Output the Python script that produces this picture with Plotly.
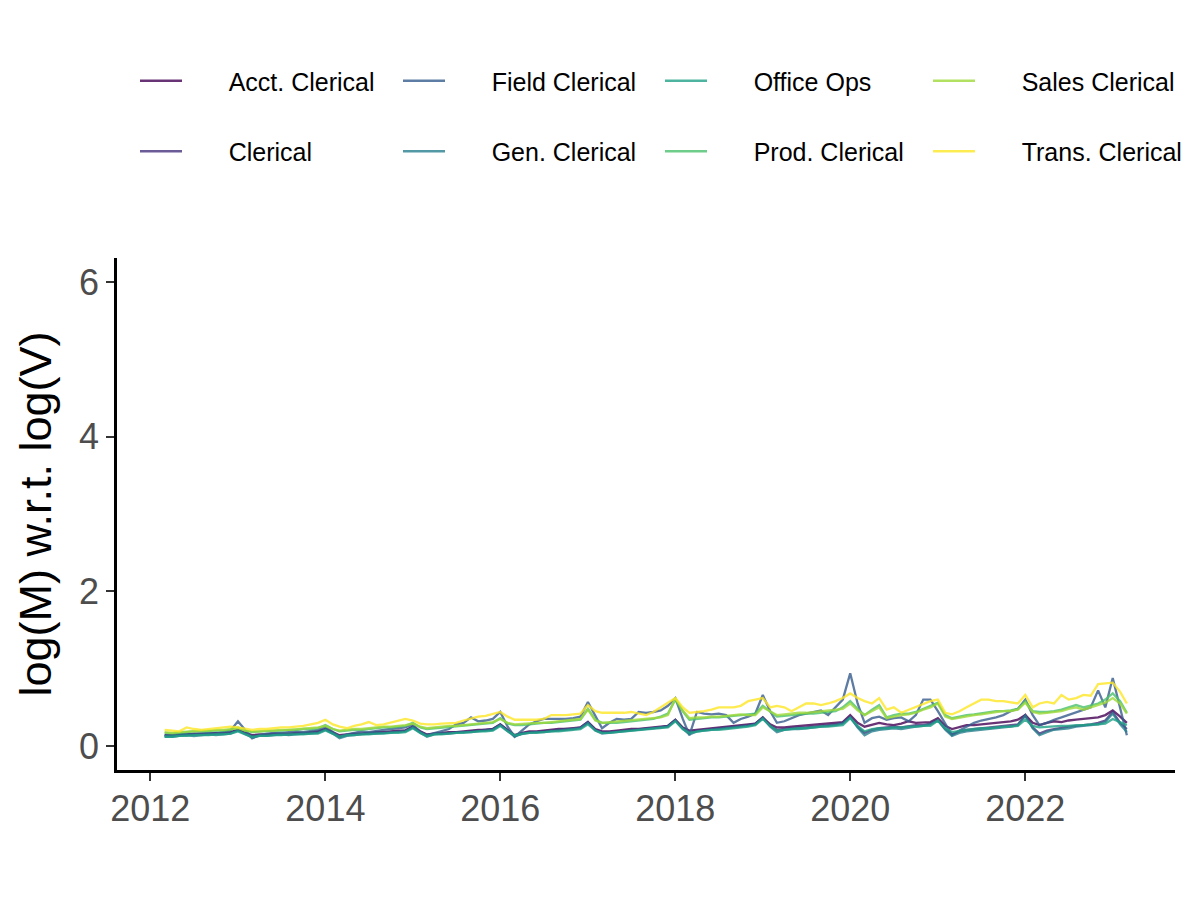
import pandas as pd
import plotly.graph_objects as go

# Monthly observations, Mar 2012 - Mar 2023
dates = pd.date_range("2012-03-01", "2023-03-01", freq="MS")

series_names = ["Acct. Clerical", "Clerical", "Field Clerical", "Gen. Clerical",
                "Office Ops", "Prod. Clerical", "Sales Clerical", "Trans. Clerical"]
colors = ["#440154", "#46337E", "#365C8D", "#277F8E",
          "#1FA187", "#4AC16D", "#9FDA3A", "#FDE725"]

acct = [.14,.14,.15,.15,.16,.16,.16,.17,.17,.18,
        .21,.17,.14,.15,.15,.16,.16,.16,.17,.17,.18,.19,
        .22,.18,.14,.15,.16,.16,.17,.18,.18,.19,.20,.20,
        .25,.19,.15,.16,.17,.18,.18,.19,.20,.21,.21,.22,
        .28,.21,.14,.17,.19,.19,.20,.21,.22,.22,.23,.24,
        .31,.22,.19,.19,.20,.21,.22,.22,.23,.24,.25,.26,
        .34,.24,.20,.21,.22,.23,.24,.25,.26,.27,.28,.29,
        .37,.28,.24,.24,.25,.26,.26,.27,.28,.29,.30,.31,
        .40,.30,.25,.28,.30,.28,.27,.29,.32,.30,.31,.31,
        .36,.26,.22,.25,.27,.27,.28,.29,.30,.31,.32,.34,
        .40,.30,.27,.30,.32,.31,.33,.34,.35,.36,.37,.40,
        .46,.38,.30]

clerical = [.13,.13,.14,.14,.15,.15,.15,.16,.16,.17,
            .21,.16,.13,.14,.14,.15,.15,.15,.16,.16,.17,.18,
            .22,.17,.12,.14,.15,.16,.16,.17,.17,.18,.19,.20,
            .25,.18,.14,.16,.16,.17,.18,.18,.19,.20,.21,.22,
            .28,.20,.13,.16,.18,.18,.19,.20,.21,.22,.22,.24,
            .31,.21,.18,.18,.19,.20,.21,.22,.23,.23,.24,.26,
            .34,.23,.17,.20,.21,.22,.23,.24,.25,.26,.27,.29,
            .37,.26,.21,.22,.23,.24,.24,.25,.26,.27,.28,.30,
            .38,.25,.17,.21,.23,.24,.25,.24,.26,.27,.27,.29,
            .34,.22,.15,.19,.21,.22,.23,.24,.25,.26,.27,.28,
            .40,.24,.16,.20,.22,.24,.25,.26,.27,.28,.30,.33,
            .44,.30,.22]

field = [.14,.13,.15,.16,.15,.16,.17,.16,.18,.20,
         .32,.20,.10,.14,.16,.17,.17,.18,.19,.18,.20,.21,
         .25,.18,.12,.15,.17,.19,.18,.20,.21,.22,.23,.24,
         .28,.18,.14,.17,.19,.22,.28,.30,.37,.32,.33,.35,
         .44,.25,.12,.20,.28,.32,.35,.35,.35,.35,.36,.38,
         .57,.38,.23,.30,.35,.34,.35,.44,.43,.44,.46,.52,
         .62,.35,.14,.44,.42,.41,.42,.40,.30,.35,.38,.42,
         .66,.45,.30,.32,.36,.40,.42,.44,.46,.40,.50,.60,
         .94,.55,.30,.36,.38,.34,.36,.37,.32,.40,.60,.60,
         .45,.28,.14,.20,.25,.30,.33,.35,.37,.40,.45,.48,
         .60,.40,.27,.30,.34,.37,.40,.43,.46,.50,.72,.50,
         .88,.50,.14]

gen = [.12,.12,.13,.14,.13,.14,.15,.14,.15,.16,
       .20,.15,.11,.13,.13,.14,.15,.14,.15,.16,.16,.17,
       .21,.16,.10,.13,.14,.15,.16,.16,.17,.17,.18,.19,
       .24,.17,.12,.15,.16,.16,.17,.18,.18,.19,.20,.21,
       .27,.19,.12,.16,.17,.18,.18,.19,.20,.21,.22,.23,
       .30,.20,.16,.17,.18,.19,.20,.21,.22,.23,.24,.25,
       .33,.22,.15,.19,.20,.21,.22,.23,.24,.25,.26,.28,
       .36,.25,.18,.21,.22,.22,.23,.24,.25,.26,.27,.29,
       .37,.24,.14,.19,.21,.22,.23,.22,.24,.25,.26,.28,
       .33,.21,.13,.17,.19,.20,.21,.22,.23,.24,.25,.27,
       .39,.23,.14,.18,.21,.22,.23,.25,.26,.27,.28,.31,
       .42,.28,.18]

office = [.12,.12,.13,.13,.14,.14,.14,.15,.15,.16,
          .19,.15,.12,.13,.13,.14,.14,.15,.15,.15,.16,.16,
          .20,.16,.12,.14,.14,.15,.15,.16,.16,.17,.17,.18,
          .23,.17,.13,.15,.15,.16,.17,.17,.18,.19,.19,.20,
          .26,.19,.14,.16,.17,.17,.18,.19,.19,.20,.21,.22,
          .28,.20,.17,.17,.18,.19,.19,.20,.21,.22,.23,.24,
          .32,.22,.17,.19,.20,.21,.21,.22,.23,.24,.25,.27,
          .35,.26,.20,.21,.22,.23,.23,.24,.25,.25,.26,.27,
          .36,.26,.19,.22,.23,.23,.24,.24,.25,.25,.26,.26,
          .33,.23,.18,.20,.21,.22,.23,.23,.24,.25,.25,.26,
          .34,.26,.24,.25,.25,.26,.26,.27,.27,.28,.28,.29,
          .35,.31,.27]

prod = [.17,.16,.17,.18,.19,.19,.20,.20,.20,.21,
        .24,.20,.18,.19,.19,.20,.20,.21,.21,.22,.22,.23,
        .27,.22,.19,.20,.21,.21,.22,.23,.24,.24,.25,.26,
        .30,.24,.22,.23,.24,.25,.25,.26,.27,.28,.29,.30,
        .36,.29,.27,.27,.28,.29,.30,.30,.31,.32,.33,.34,
        .48,.34,.30,.30,.30,.31,.32,.33,.34,.35,.38,.42,
        .60,.45,.34,.35,.36,.37,.37,.38,.39,.40,.41,.42,
        .52,.44,.38,.39,.40,.41,.42,.42,.43,.44,.45,.50,
        .58,.48,.40,.47,.53,.37,.40,.42,.42,.44,.48,.52,
        .56,.40,.36,.38,.40,.41,.42,.44,.45,.45,.46,.48,
        .58,.45,.44,.44,.45,.47,.50,.53,.50,.52,.55,.60,
        .68,.58,.43]

sales = [.18,.17,.18,.19,.19,.20,.20,.21,.21,.22,
         .23,.20,.19,.19,.20,.20,.21,.21,.22,.22,.23,.24,
         .26,.22,.20,.21,.22,.22,.23,.24,.25,.25,.26,.27,
         .29,.25,.23,.24,.25,.26,.26,.27,.28,.29,.30,.31,
         .35,.30,.28,.29,.29,.30,.30,.31,.32,.33,.34,.35,
         .47,.33,.30,.31,.31,.32,.33,.34,.35,.36,.37,.40,
         .62,.46,.36,.37,.37,.38,.38,.39,.40,.41,.40,.40,
         .50,.45,.40,.41,.42,.43,.43,.44,.45,.46,.47,.48,
         .55,.46,.40,.45,.50,.36,.38,.40,.41,.43,.47,.50,
         .55,.38,.35,.37,.38,.40,.41,.43,.44,.45,.45,.47,
         .56,.44,.42,.43,.44,.45,.48,.50,.47,.50,.53,.56,
         .62,.55,.42]

trans = [.21,.20,.19,.24,.22,.21,.22,.23,.24,.25,
         .24,.22,.21,.22,.22,.23,.24,.24,.25,.26,.28,.30,
         .34,.28,.25,.23,.26,.28,.31,.27,.28,.30,.33,.35,
         .33,.29,.28,.28,.29,.30,.30,.33,.36,.38,.39,.41,
         .44,.38,.34,.34,.34,.34,.35,.40,.40,.40,.41,.42,
         .53,.45,.43,.43,.43,.43,.44,.42,.40,.44,.50,.55,
         .62,.50,.43,.44,.45,.47,.50,.50,.50,.52,.58,.60,
         .62,.50,.52,.50,.45,.50,.55,.55,.53,.55,.58,.62,
         .68,.62,.58,.55,.62,.47,.50,.43,.47,.50,.55,.58,
         .60,.43,.41,.45,.50,.55,.60,.60,.58,.58,.56,.55,
         .66,.50,.55,.57,.55,.66,.60,.62,.66,.65,.80,.81,
         .82,.70,.55]

values = [acct, clerical, field, gen, office, prod, sales, trans]

y_ticks = [0, 2, 4, 6]
x_ticks = ["2012-01-01", "2014-01-01", "2016-01-01", "2018-01-01",
           "2020-01-01", "2022-01-01"]
x_tick_labels = ["2012", "2014", "2016", "2018", "2020", "2022"]

FONT = "Liberation Sans, Arial, sans-serif"
PAD = "\u00a0" * 6  # gap between legend key and label

# legend columns: each column is its own legend with 2 rows
legend_ids = ["legend", "legend2", "legend3", "legend4"]

fig = go.Figure()
for i, (name, col, vals) in enumerate(zip(series_names, colors, values)):
    fig.add_trace(go.Scatter(
        x=dates, y=vals, mode="lines", name=PAD + name,
        line=dict(color=col, width=2.3), opacity=0.8,
        legend=legend_ids[i // 2], legendgroup=name,
    ))

plot_l, plot_r, plot_t, plot_b = 117, 1175, 258, 770
W, H = 1200, 900
pw = plot_r - plot_l
ph = plot_b - plot_t

col_px = [135, 398, 660, 928]
leg_common = dict(
    orientation="v", bgcolor="rgba(0,0,0,0)",
    font=dict(family=FONT, size=25, color="#000000"),
    tracegroupgap=35, itemwidth=42, itemsizing="trace",
    xanchor="left", yanchor="top",
)
layout_legends = {}
for lid, cx in zip(legend_ids, col_px):
    layout_legends[lid] = dict(leg_common, x=(cx - plot_l) / pw,
                               y=(plot_b - 58) / ph)

fig.update_layout(
    width=W, height=H,
    margin=dict(l=plot_l, r=W - plot_r, t=plot_t, b=H - plot_b,
                autoexpand=False),
    paper_bgcolor="white", plot_bgcolor="white",
    font=dict(family=FONT),
    showlegend=True,
    **layout_legends,
)

fig.update_xaxes(
    type="date",
    range=["2011-08-15", "2023-09-18"],
    tickvals=x_ticks, ticktext=x_tick_labels,
    showgrid=False, zeroline=False,
    showline=True, linecolor="black", linewidth=2.5,
    ticks="outside", ticklen=8, tickwidth=2, tickcolor="#333333",
    ticklabelstandoff=-3,
    tickfont=dict(family=FONT, size=36, color="#4D4D4D"),
)
fig.update_yaxes(
    range=[-0.31, 6.31],
    tickvals=y_ticks, ticktext=[str(v) for v in y_ticks],
    showgrid=False, zeroline=False,
    showline=True, linecolor="black", linewidth=2.5,
    ticks="outside", ticklen=8, tickwidth=2, tickcolor="#333333",
    tickfont=dict(family=FONT, size=36, color="#4D4D4D"),
    title=dict(text="log(M) w.r.t. log(V)", standoff=14,
               font=dict(family=FONT, size=45, color="#000000")),
)

fig.write_html("out.html",
               config={"displayModeBar": False},
               post_script="document.body.style.margin='0';")
